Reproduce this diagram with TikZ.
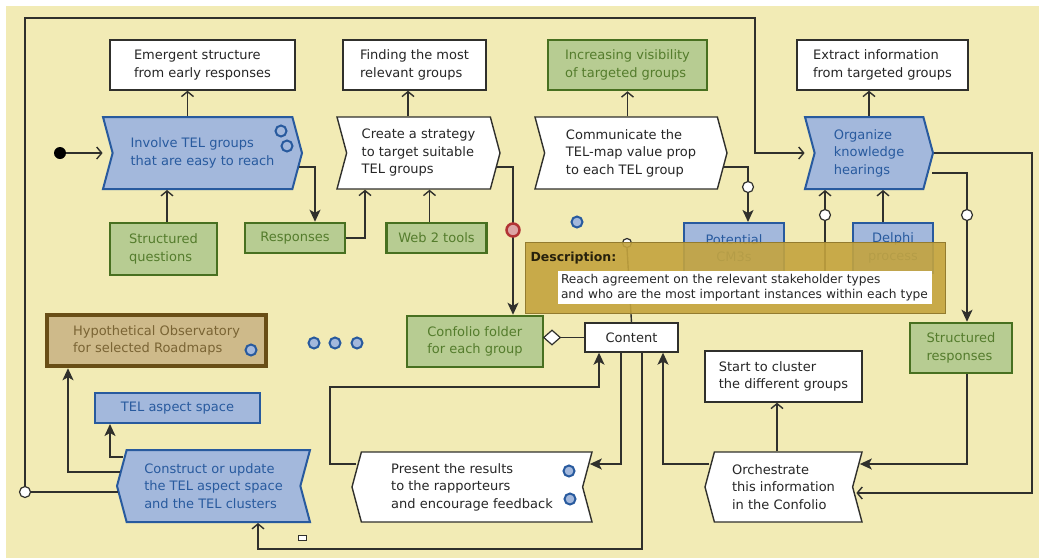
\documentclass[tikz,border=0pt]{standalone}
\usepackage{fontspec}
\setmainfont{DejaVu Sans}
\usetikzlibrary{shapes.geometric,shapes.symbols,arrows.meta,positioning,calc}
\definecolor{paper}{RGB}{242,235,181}
\definecolor{actfill}{RGB}{163,184,220}
\definecolor{actline}{RGB}{40,90,158}
\definecolor{resfill}{RGB}{183,204,146}
\definecolor{resline}{RGB}{72,112,32}
\definecolor{restext}{RGB}{84,124,44}
\definecolor{obsfill}{RGB}{206,186,138}
\definecolor{obsline}{RGB}{105,78,22}
\definecolor{obstext}{RGB}{122,100,52}
\definecolor{wire}{RGB}{48,48,44}
\definecolor{tipgold}{RGB}{196,164,62}
\definecolor{pinred}{RGB}{178,52,52}
\tikzset{
  mainfont/.style={font=\fontsize{13}{17.5}\selectfont},
  outcome/.style={rectangle, draw=wire, line width=1.4pt, fill=white,
    align=left, mainfont, text=black!85, inner sep=2pt},
  activity/.style={signal, signal to=east, signal from=west,
    signal pointer angle=150, draw=actline, line width=2pt, fill=actfill,
    text=actline, align=left, mainfont, minimum height=72pt, inner sep=2pt},
  plainact/.style={activity, draw=wire, line width=1.4pt, fill=white, text=black!85},
  backact/.style={activity, signal to=west, signal from=east},
  backplain/.style={plainact, signal to=west, signal from=east},
  resource/.style={rectangle, draw=resline, line width=2.5pt, fill=resfill,
    text=restext, align=left, mainfont, inner sep=2pt},
  concept/.style={rectangle, draw=actline, line width=2pt, fill=actfill,
    text=actline, align=center, mainfont, inner sep=2pt},
  observ/.style={rectangle, draw=obsline, line width=4.5pt, fill=obsfill,
    text=obstext, align=left, mainfont, inner sep=2pt},
  arrow/.style={-{Stealth[length=12pt,width=11pt,inset=3pt]}, draw=wire, line width=1.4pt},
  openarrow/.style={-{Straight Barb[length=5pt,width=12pt]}, draw=wire, line width=1.4pt},
  link/.style={draw=wire, line width=1.4pt},
  knob/.style={circle, draw=wire, fill=white, line width=1.2pt, minimum size=11pt, inner sep=0pt},
  ring/.style={circle, draw=actline, fill=actfill, line width=2pt, minimum size=11pt, inner sep=0pt},
  redpin/.style={circle, draw=pinred, fill=pinred!45!white, line width=2.5pt, minimum size=13pt, inner sep=0pt},
  startdot/.style={circle, fill=black, minimum size=12pt, inner sep=0pt},
  aggdiamond/.style={diamond, draw=wire, fill=white, line width=1.2pt, minimum width=17pt, minimum height=15pt, inner sep=0pt},
  tipbox/.style={rectangle, draw=tipgold!75!black, line width=0.8pt, fill=tipgold, fill opacity=0.9, minimum width=420pt, minimum height=71pt},
  tiptext/.style={rectangle, fill=white, align=left, text width=368pt, inner sep=3pt,
    font=\fontsize{12.2}{15.5}\selectfont, text=black!85},
}

\begin{document}
\begin{tikzpicture}[x=1pt, y=-1pt]
\useasboundingbox (0,0) rectangle (1039,558);
\fill[white] (0,0) rectangle (1039,558);
\fill[paper] (6,6) rectangle (1039,558);

\node[outcome, minimum width=185pt, minimum height=50pt] (emerg) at (202.5,65) {Emergent structure\\from early responses};
\node[outcome, minimum width=143pt, minimum height=50pt] (find) at (414.5,65) {Finding the most\\relevant groups};
\node[resource, minimum width=159pt, minimum height=50pt] (incr) at (627.5,65) {Increasing visibility\\of targeted groups};
\node[outcome, minimum width=171pt, minimum height=50pt] (extr) at (882.5,65) {Extract information\\from targeted groups};

\node[startdot] (start) at (60,153) {};
\node[activity, minimum width=199pt] (invol) at (202.5,153) {Involve TEL groups\\that are easy to reach};
\node[plainact, minimum width=163pt] (create) at (418.5,153) {Create a strategy\\to target suitable\\TEL groups};
\node[plainact, minimum width=192pt] (commun) at (631,153) {Communicate the\\TEL-map value prop\\to each TEL group};
\node[activity, minimum width=128pt] (organ) at (869,153) {Organize\\knowledge\\hearings};

\node[resource, minimum width=107pt, minimum height=52pt] (sq) at (163.5,249) {Structured\\questions};
\node[resource, minimum width=100pt, minimum height=30pt] (resp) at (295,238) {Responses};
\node[resource, minimum width=100pt, minimum height=30pt] (web) at (436.5,238) {Web 2 tools};
\node[concept, minimum width=100pt, minimum height=50pt] (cm3) at (734,248) {Potential\\CM3s};
\node[concept, minimum width=80pt, minimum height=50pt] (delphi) at (893,248) {Delphi\\process};

\node[observ, minimum width=219pt, minimum height=51pt] (hypo) at (156.5,340.5) {Hypothetical Observatory\\for selected Roadmaps\hspace{18pt}};
\node[resource, minimum width=136pt, minimum height=51pt] (confolio) at (475,341.5) {Confolio folder\\for each group};
\node[outcome, align=center, minimum width=93pt, minimum height=29pt] (content) at (631.5,337.5) {Content};
\node[aggdiamond] (agg) at (552,337.5) {};
\node[resource, minimum width=102pt, minimum height=50pt] (strresp) at (961,348) {Structured\\responses};
\node[concept, minimum width=165pt, minimum height=30pt] (aspect) at (177.5,408) {TEL aspect space};
\node[outcome, minimum width=157pt, minimum height=51pt] (cluster) at (783.5,376.5) {Start to cluster\\the different groups};

\node[backact, minimum width=193pt] (construct) at (213.5,486) {Construct or update\\the TEL aspect space\\and the TEL clusters};
\node[backplain, minimum width=240pt, minimum height=70pt] (present) at (472,487) {Present the results\\to the rapporteurs\\and encourage feedback};
\node[backplain, minimum width=157pt, minimum height=70pt] (orchestr) at (783.5,487) {Orchestrate\\this information\\in the Confolio};

\coordinate (hidden) at (825,300);
\coordinate (farright) at (1032,493);
\coordinate (floor) at (642,549);
\coordinate (loopleft) at (330,387);
\coordinate (frameTR) at (755,18);

\draw[openarrow] (start) -- ($(invol.west)+(-9,0)$);
\draw[openarrow] ([xshift=-15pt]invol.north) -- ([xshift=-15pt]emerg.south);
\draw[openarrow] ([xshift=-10.5pt]create.north) -- ([xshift=-10.5pt]create.north |- find.south);
\draw[openarrow] (commun.north -| incr.south) -- (incr.south);
\draw[openarrow] (organ.north) -- (organ.north |- extr.south);
\draw[openarrow] ([xshift=3.5pt]sq.north) -- ([xshift=3.5pt]sq.north |- invol.south);
\draw[arrow] ([xshift=-4pt,yshift=-14pt]invol.east) -| ([xshift=20pt]resp.north);
\draw[openarrow] (resp.east) -| ([xshift=-53.5pt]create.south);
\draw[openarrow] ([xshift=-7pt]web.north) -- ([xshift=-7pt]web.north |- create.south);
\draw[arrow] ([xshift=-4pt,yshift=-14pt]create.east) -| ([xshift=38pt]confolio.north);
\draw[arrow] ([xshift=-4pt,yshift=-14pt]commun.east) -| ([xshift=14pt]cm3.north);
\draw[openarrow] (hidden) -- (hidden |- organ.south);
\draw[openarrow] ([xshift=-10pt]delphi.north) -- ([xshift=-10pt]delphi.north |- organ.south);
\draw[arrow] ([xshift=-2pt,yshift=-20pt]organ.east) -| ([xshift=6pt]strresp.north);
\draw[openarrow] (organ.east) -| (farright) -- ($(farright -| orchestr.east)+(3,0)$);
\draw[arrow] ([xshift=6pt]strresp.south) |- ($(orchestr.east)+(6.5,-23)$);
\draw[openarrow] ([xshift=-6.5pt]orchestr.north) -- ([xshift=-6.5pt]orchestr.north |- cluster.south);
\draw[arrow] ($(orchestr.west)+(5,-23)$) -| ([xshift=31.5pt]content.south);
\draw[arrow] ([xshift=-10.5pt]content.south) |- ($(present.east)+(6.5,-23)$);
\draw[openarrow] ([xshift=10.5pt]content.south) |- (floor) -| ([xshift=44.5pt]construct.south);
\draw[arrow] ($(present.west)+(5,-23)$) -| (loopleft) -| ([xshift=-32.5pt]content.south);
\draw[arrow] ($(construct.west)+(4,-14)$) -| ([xshift=-88.5pt]hypo.south);
\draw[arrow] ($(construct.west)+(7,-29)$) -| ([xshift=-67.5pt]aspect.south);
\draw[link] (content.west) -- (agg.east);

\node[knob] (frameknob) at (25,492) {};
\draw[link] ($(construct.west)+(2,6)$) -- (frameknob.east);
\draw[openarrow] (frameknob.north) |- (frameTR) |- ($(organ.west)+(-9,0)$);

\node[knob, minimum size=9pt] (cmknob) at (627,243) {};
\draw[link] (content.north) -- (cmknob.south);
\node[knob] (knobA) at (748,187) {};
\node[knob] (knobB) at (825,215) {};
\node[knob] (knobC) at (967,215) {};
\node[redpin] (pin) at (513,230) {};

\node[ring] at (281,131) {};
\node[ring] at (287,146) {};
\node[ring] at (251,350) {};
\node[ring] at (314,343) {};
\node[ring] at (335,343) {};
\node[ring] at (357,343) {};
\node[ring] at (577,222) {};
\node[ring] at (569,471) {};
\node[ring] at (570,499) {};
\node[draw=wire, fill=white, line width=1pt, minimum width=8pt, minimum height=5pt, inner sep=0pt] (handle) at (302,538) {};

\node[tipbox] (tip) at (735,277.5) {};
\node[anchor=west, font=\fontsize{12.5}{14}\selectfont\bfseries, text=black!80!tipgold] (tiphead) at (527,258) {Description:};
\node[tiptext] (tipbody) at (745,287.5) {Reach agreement on the relevant stakeholder types\\and who are the most important instances within each type};
\end{tikzpicture}
\end{document}
